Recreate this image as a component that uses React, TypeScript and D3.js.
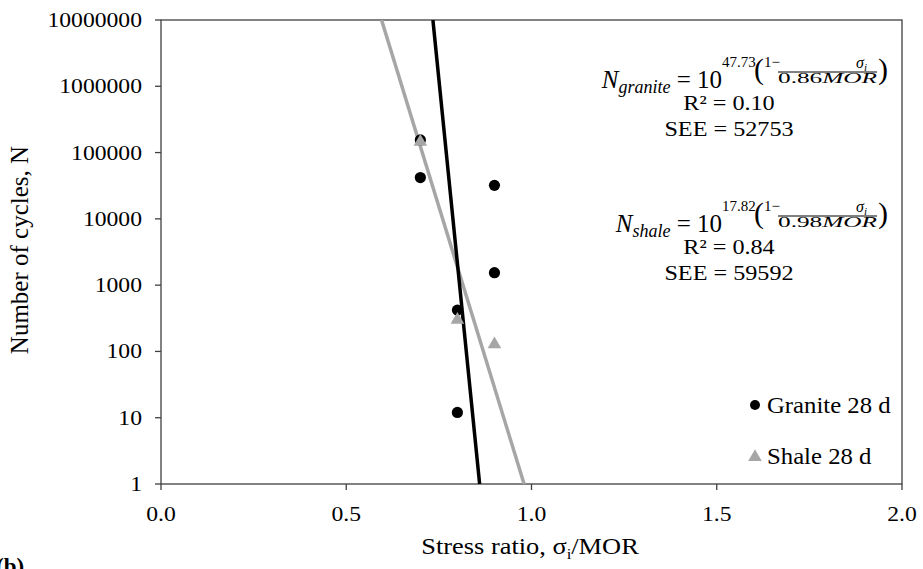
import React from "react";
import * as d3 from "d3";

// ---- data ----
const graniteX = [0.7, 0.7, 0.9, 0.9, 0.8, 0.8];
const graniteN = [155000, 42000, 32000, 1540, 420, 12];
const shaleX = [0.7, 0.8, 0.9];
const shaleN = [145000, 300, 128];
const graniteTrendX = [0.7339, 0.86];
const graniteTrendN = [10000000, 1];
const shaleTrendX = [0.5953, 0.98];
const shaleTrendN = [10000000, 1];
const xTicks = [0, 0.5, 1.0, 1.5, 2.0];
const yTicks = [1, 10, 100, 1000, 10000, 100000, 1000000, 10000000];
const eqSubs = ["granite", "shale"];
const eqExps = ["47.73", "17.82"];
const eqDens = ["0.86", "0.98"];
const r2Labels = ["R\u00B2 = 0.10", "R\u00B2 = 0.84"];
const seeLabels = ["SEE = 52753", "SEE = 59592"];
const legendLabels = ["Granite 28 d", "Shale 28 d"];

const W = 923, H = 569;
const L = 161, R = 902, T = 20, B = 484;
const serif = "'Liberation Serif', 'Times New Roman', serif";
const axisColor = "#404040";
const grey = "#A6A6A6";
const SX = 1.1;

function ST(props: { x: number; y: number; size: number; anchor?: string; children: any; weight?: any }) {
  return (
    <text transform={`translate(${props.x},${props.y}) scale(${SX},1)`} x={0} y={0}
      textAnchor={props.anchor || "start"} fontSize={props.size} fontWeight={props.weight} fill="#000">
      {props.children}
    </text>
  );
}

export default function App() {
  const x = d3.scaleLinear().domain([0, 2]).range([L, R]);
  const y = d3.scaleLog().domain([1, 1e7]).range([B, T]);
  const line = d3.line<[number, number]>().x(d => x(d[0])).y(d => y(d[1]));
  const tri = d3.symbol(d3.symbolTriangle, 80)();
  const gTrend = graniteTrendX.map((v, i) => [v, graniteTrendN[i]] as [number, number]);
  const sTrend = shaleTrendX.map((v, i) => [v, shaleTrendN[i]] as [number, number]);
  const eqBase = [88, 232];

  return (
    <svg width={W} height={H} style={{ position: "fixed", left: 0, top: 0, background: "#fff" }}
      fontFamily={serif}>
      <rect x={0} y={0} width={W} height={H} fill="#fff" />
      <defs>
        <clipPath id="plot"><rect x={L} y={T} width={R - L} height={B - T} /></clipPath>
      </defs>
      {/* frame */}
      <rect x={L} y={T} width={R - L} height={B - T} fill="none" stroke={axisColor} strokeWidth={1.3} />
      {/* y ticks */}
      {yTicks.map(t => (
        <g key={t}>
          <line x1={L - 6} x2={L} y1={y(t)} y2={y(t)} stroke={axisColor} strokeWidth={1.3} />
          <ST x={L - 19} y={y(t) + 7} anchor="end" size={21.5}>{String(t)}</ST>
        </g>
      ))}
      {/* x ticks */}
      {xTicks.map(t => (
        <g key={t}>
          <line x1={x(t)} x2={x(t)} y1={B} y2={B + 6} stroke={axisColor} strokeWidth={1.3} />
          <ST x={x(t)} y={B + 37} anchor="middle" size={21.5}>{t.toFixed(1)}</ST>
        </g>
      ))}
      {/* axis titles */}
      <ST x={530} y={554} anchor="middle" size={24}>
        Stress ratio, σ<tspan fontSize={15} dy={5}>i</tspan><tspan dy={-5}>/MOR</tspan>
      </ST>
      <text transform={`translate(28,${250}) rotate(-90)`} textAnchor="middle" fontSize={25}>
        Number of cycles, N
      </text>
      <text x={-4} y={574} fontSize={23} fontWeight="bold">(b)</text>

      {/* trend lines */}
      <g clipPath="url(#plot)">
        <path d={line(sTrend) || ""} stroke={grey} strokeWidth={3.5} fill="none" />
        <path d={line(gTrend) || ""} stroke="#000" strokeWidth={3.5} fill="none" />
      </g>
      {/* points */}
      {graniteX.map((v, i) => (
        <circle key={"g" + i} cx={x(v)} cy={y(graniteN[i])} r={5.6} fill="#000" />
      ))}
      {shaleX.map((v, i) => (
        <path key={"s" + i} d={tri || ""} transform={`translate(${x(v)},${y(shaleN[i])})`} fill={grey} />
      ))}

      {/* equations */}
      {eqSubs.map((s, i) => {
        const b = eqBase[i];
        return (
          <g key={s}>
            <text x={722} y={b} textAnchor="end" fontSize={25}>
              <tspan fontStyle="italic">N</tspan>
              <tspan fontStyle="italic" fontSize={18} dy={5}>{s}</tspan>
              <tspan dy={-5}> = 10</tspan>
            </text>
            <text x={722} y={b - 21} fontSize={15}>{eqExps[i]}</text>
            <text x={754} y={b - 9} fontSize={30} fontWeight={300}>(</text>
            <text x={764} y={b - 21} fontSize={15}>1−</text>
            <line x1={778} x2={877} y1={b - 16} y2={b - 16} stroke="#000" strokeWidth={1} />
            <text x={856} y={b - 20} fontSize={16}>
              <tspan fontStyle="italic">σ</tspan><tspan fontStyle="italic" fontSize={11} dy={3}>i</tspan>
            </text>
            <text x={778} y={b - 5} fontSize={14} textLength={99} lengthAdjust="spacingAndGlyphs">
              {eqDens[i]}<tspan fontStyle="italic">MOR</tspan>
            </text>
            <text x={878} y={b - 9} fontSize={30} fontWeight={300}>)</text>
            <ST x={729} y={b + 22} anchor="middle" size={22}>{r2Labels[i]}</ST>
            <ST x={729} y={b + 48} anchor="middle" size={22}>{seeLabels[i]}</ST>
          </g>
        );
      })}

      {/* legend */}
      <circle cx={755} cy={405} r={5} fill="#000" />
      <ST x={767} y={413} size={22.5}>{legendLabels[0]}</ST>
      <path d={tri || ""} transform="translate(755,457)" fill={grey} />
      <ST x={767} y={464} size={22.5}>{legendLabels[1]}</ST>
    </svg>
  );
}
